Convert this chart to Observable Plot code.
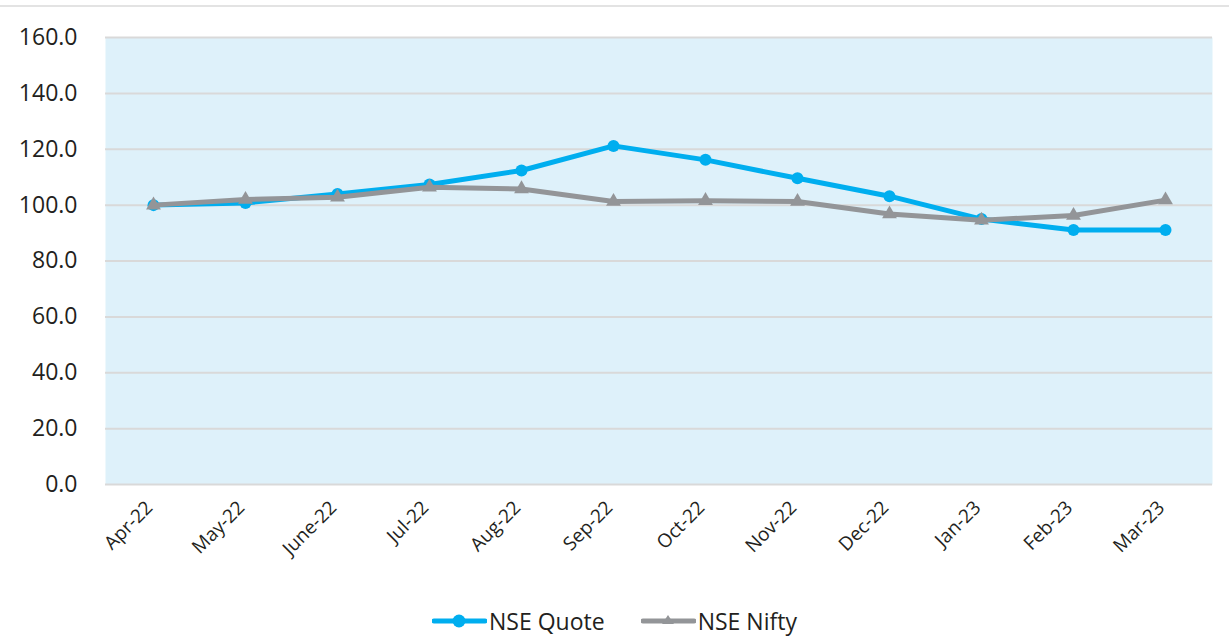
<!DOCTYPE html>
<html>
<head>
<meta charset="utf-8">
<script src="https://cdn.jsdelivr.net/npm/d3@7"></script>
<script src="https://cdn.jsdelivr.net/npm/@observablehq/plot@0.6"></script>
<style>
  html, body { margin: 0; padding: 0; background: #fff; }
  body { width: 1229px; height: 639px; overflow: hidden; font-family: "Open Sans", "Noto Sans", sans-serif; color: #231F20; }
  #top { position: absolute; left: 0; top: 5px; width: 1229px; height: 0; border-top: 2px solid #e3e3e3; }
  #chart { position: absolute; left: 0; top: 0; }
  #legend { position: absolute; left: 0; top: 606px; width: 1229px; display: flex; justify-content: center; align-items: center; gap: 36px; font-size: 23px; line-height: 30px; }
  .item { display: flex; align-items: center; }
  .item svg { display: block; margin-right: 2px; }
</style>
</head>
<body>
<div id="top"></div>
<div id="chart"></div>
<div id="legend"></div>
<script>
const months = ["Apr-22","May-22","June-22","Jul-22","Aug-22","Sep-22","Oct-22","Nov-22","Dec-22","Jan-23","Feb-23","Mar-23"];
const nseQuote = [100.0, 100.8, 104.0, 107.4, 112.4, 121.2, 116.2, 109.6, 103.2, 95.0, 91.1, 91.1];
const nseNifty = [100.0, 102.0, 102.8, 106.4, 105.8, 101.3, 101.6, 101.3, 96.8, 94.6, 96.3, 101.8];
const yTicks = [0, 20, 40, 60, 80, 100, 120, 140, 160];
const seriesNames = ["NSE Quote", "NSE Nifty"];
const seriesColors = ["#00AEEF", "#939598"];

const data = [];
months.forEach((m, i) => {
  data.push({month: m, value: nseQuote[i], series: seriesNames[0]});
  data.push({month: m, value: nseNifty[i], series: seriesNames[1]});
});
const quote = data.filter(d => d.series === seriesNames[0]);
const nifty = data.filter(d => d.series === seriesNames[1]);

const chart = Plot.plot({
  width: 1229,
  height: 600,
  marginTop: 37,
  marginBottom: 116,
  marginLeft: 105,
  marginRight: 17,
  style: {fontFamily: '"Open Sans", "Noto Sans", sans-serif', color: "#231F20", background: "transparent"},
  x: {type: "point", domain: months, padding: 0.5, label: null},
  y: {domain: [0, 160], label: null},
  marks: [
    Plot.frame({fill: "#DEF1FA", stroke: null}),
    Plot.ruleY(yTicks, {stroke: "#D9D9D9", strokeWidth: 2}),
    Plot.axisY({ticks: yTicks, tickSize: 0, tickPadding: 28, tickFormat: d3.format(".1f"), fontSize: 23, label: null}),
    Plot.axisX({tickSize: 0, tickPadding: 20, tickRotate: -45, fontSize: 19, dx: -4, label: null}),
    Plot.line(quote, {x: "month", y: "value", stroke: seriesColors[0], strokeWidth: 5}),
    Plot.dot(quote, {x: "month", y: "value", symbol: "circle", r: 6, fill: seriesColors[0], stroke: null}),
    Plot.line(nifty, {x: "month", y: "value", stroke: seriesColors[1], strokeWidth: 5}),
    Plot.dot(nifty, {x: "month", y: "value", symbol: "triangle", r: 5.5, fill: seriesColors[1], stroke: null})
  ]
});
document.getElementById("chart").appendChild(chart);

const legend = document.getElementById("legend");
seriesNames.forEach((name, i) => {
  const item = document.createElement("div");
  item.className = "item";
  const sym = i === 0
    ? `<circle cx="27" cy="10" r="6.5" fill="${seriesColors[i]}"/>`
    : `<path d="M27,4 L33,13 L21,13 Z" fill="${seriesColors[i]}"/>`;
  item.innerHTML = `<svg width="55" height="20"><line x1="2" y1="10" x2="53" y2="10" stroke="${seriesColors[i]}" stroke-width="5" stroke-linecap="round"/>${sym}</svg><span>${name}</span>`;
  legend.appendChild(item);
});
</script>
</body>
</html>
